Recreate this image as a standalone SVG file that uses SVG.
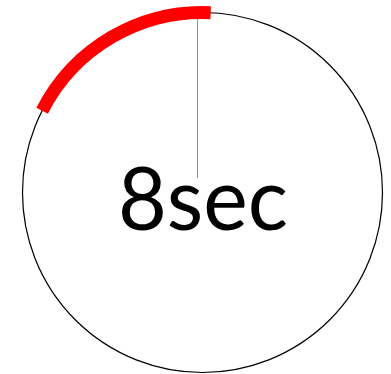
<svg xmlns="http://www.w3.org/2000/svg" width="391" height="374" viewBox="0 0 391 374">
<style>
.ring{fill:none;stroke:#000;stroke-width:1.2}
.progress{fill:none;stroke:#ff0000;stroke-width:13;stroke-linecap:butt}
.hand{stroke:#ff5c5c;stroke-width:1}
.label{font-family:"Lato","Open Sans",sans-serif;font-size:88px;fill:#000;text-anchor:middle}
</style>
<rect width="391" height="374" fill="#fff"/>
<g id="dial">
<circle class="ring" cx="202.5" cy="192.5" r="180"/>
<line class="hand" x1="197.5" y1="14" x2="197.5" y2="178"/>
<path class="progress" d="M 210.66 12.69 A 180 180 0 0 0 42.12 110.78"/>
<text class="label" x="203" y="230" textLength="170" lengthAdjust="spacingAndGlyphs">8sec</text>
</g>
</svg>
